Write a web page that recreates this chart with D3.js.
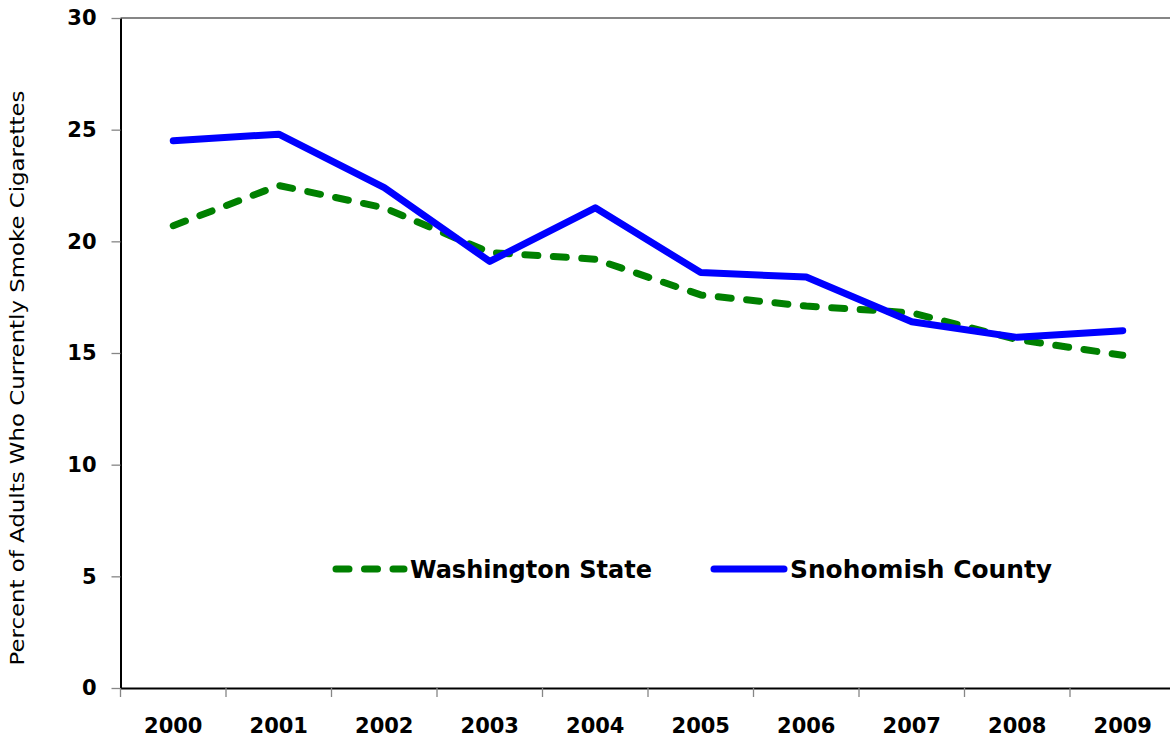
<!DOCTYPE html>
<html><head><meta charset="utf-8">
<script src="https://cdn.jsdelivr.net/npm/d3@7"></script>
<style>html,body{margin:0;padding:0;background:#fff;overflow:hidden}</style>
</head><body>
<svg id="c" width="1170" height="745"></svg>
<script>
const years = ["2000","2001","2002","2003","2004","2005","2006","2007","2008","2009"];
const washington = [20.7,22.5,21.5,19.5,19.2,17.6,17.1,16.8,15.6,14.9];
const snohomish = [24.5,24.8,22.4,19.1,21.5,18.6,18.4,16.4,15.7,16.0];
const yTicks = [0,5,10,15,20,25,30];
const seriesNames = ["Washington State","Snohomish County"];

(function(){
const svg = d3.select("#c");
const pL = 120.5, pR = 1175.5, pT = 18, pB = 688;
const x = d3.scaleBand().domain(years).range([pL, pR]);
const y = d3.scaleLinear().domain([0,30]).range([pB, pT]);
const font = "DejaVu Sans, Verdana, sans-serif";

svg.append("line").attr("x1", pL).attr("x2", 1170).attr("y1", y(30)).attr("y2", y(30))
  .attr("stroke", "#868686").attr("stroke-width", 2);

const ya = svg.append("g").attr("transform", `translate(${pL},0)`)
  .call(d3.axisLeft(y).tickValues(yTicks).tickSize(9).tickPadding(15).tickSizeOuter(0));
ya.select(".domain").attr("stroke", "#000").attr("stroke-width", 2);
ya.selectAll(".tick line").attr("stroke", "#868686").attr("stroke-width", 1.3);
ya.selectAll(".tick text").attr("font-family", font).attr("font-size", 21).attr("font-weight", "bold").attr("fill", "#000");

const xa = svg.append("g").attr("transform", `translate(0,${pB})`)
  .call(d3.axisBottom(x).tickSize(0).tickPadding(30).tickSizeOuter(0));
xa.select(".domain").attr("stroke", "#000").attr("stroke-width", 2);
xa.selectAll(".tick text").attr("font-family", font).attr("font-size", 21).attr("font-weight", "bold").attr("fill", "#000");
svg.append("g").selectAll("line").data(years).join("line")
  .attr("x1", d => x(d)).attr("x2", d => x(d))
  .attr("y1", pB).attr("y2", pB + 9)
  .attr("stroke", "#868686").attr("stroke-width", 1.3);

svg.append("text").attr("transform", `translate(24,${(pT+pB)/2 + 25}) rotate(-90)`)
  .attr("text-anchor", "middle").attr("font-family", font).attr("font-size", 19)
  .attr("textLength", 575).attr("lengthAdjust", "spacingAndGlyphs")
  .text("Percent of Adults Who Currently Smoke Cigarettes");

const line = d3.line().x((d,i) => x(years[i]) + x.bandwidth()/2).y(d => y(d));

svg.append("path").datum(washington).attr("d", line).attr("fill", "none")
  .attr("stroke", "#008000").attr("stroke-width", 7).attr("stroke-dasharray", "13,15.5")
  .attr("stroke-linecap", "round").attr("stroke-linejoin", "round");
svg.append("path").datum(snohomish).attr("d", line).attr("fill", "none")
  .attr("stroke", "#0000ff").attr("stroke-width", 7)
  .attr("stroke-linecap", "round").attr("stroke-linejoin", "round");

const lg = svg.append("g");
lg.append("line").attr("x1", 336).attr("x2", 404).attr("y1", 569).attr("y2", 569)
  .attr("stroke", "#008000").attr("stroke-width", 7).attr("stroke-dasharray", "13,15.5").attr("stroke-linecap", "round");
lg.append("text").attr("x", 410).attr("y", 578).attr("font-family", font).attr("font-size", 25).attr("font-weight", "bold")
  .attr("textLength", 242).attr("lengthAdjust", "spacingAndGlyphs").text(seriesNames[0]);
lg.append("line").attr("x1", 714).attr("x2", 784).attr("y1", 569).attr("y2", 569)
  .attr("stroke", "#0000ff").attr("stroke-width", 7).attr("stroke-linecap", "round");
lg.append("text").attr("x", 790).attr("y", 578).attr("font-family", font).attr("font-size", 25).attr("font-weight", "bold")
  .attr("textLength", 262).attr("lengthAdjust", "spacingAndGlyphs").text(seriesNames[1]);
})();
</script>
</body></html>
